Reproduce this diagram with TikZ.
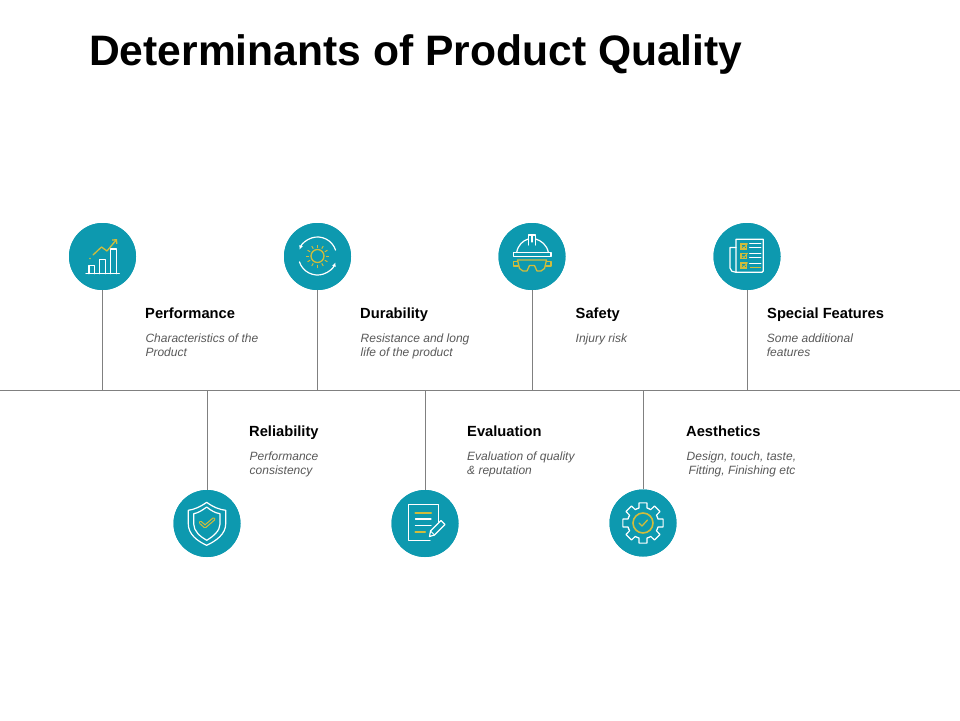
\documentclass[tikz,border=0pt]{standalone}
\usepackage{fontspec}
\setmainfont{Liberation Sans}
\usetikzlibrary{arrows.meta,calc}
\definecolor{teal1}{RGB}{13,153,175}
\definecolor{gold1}{RGB}{208,188,60}
\definecolor{rule1}{RGB}{128,128,128}
\definecolor{desc1}{RGB}{89,89,89}
\tikzset{
  disc/.style={circle,fill=teal1,minimum size=67pt,inner sep=0pt},
  stem/.style={draw=rule1,line width=0.8pt},
  head/.style={anchor=base west,inner sep=0pt,font=\fontsize{14.7}{17}\selectfont\bfseries,text=black},
  desc/.style={anchor=north west,inner sep=0pt,align=left,font=\fontsize{12}{14}\selectfont\itshape,text=desc1},
  wl/.style={draw=white,line width=1.2pt,line join=round,line cap=round},
  gl/.style={draw=gold1,line width=1.3pt,line join=round,line cap=round},
  gt/.style={draw=gold1,line width=2.2pt,line cap=round},
}
\begin{document}
\begin{tikzpicture}[x=1pt,y=-1pt]
\useasboundingbox (0,0) rectangle (960,720);
\fill[white] (0,0) rectangle (960,720);
\node[anchor=base west,inner sep=0pt,font=\fontsize{42.6}{48}\selectfont\bfseries] (title) at (89,65) {Determinants of Product Quality};
\coordinate (axisL) at (0,390);
\coordinate (axisR) at (960,390);
\draw[stem] (axisL) -- (axisR);
% discs
\node[disc] (perf) at (102.5,256.5) {};
\node[disc] (dura) at (317.5,256.5) {};
\node[disc] (safe) at (532,256.5) {};
\node[disc] (spec) at (747,256.5) {};
\node[disc] (reli) at (207,523.5) {};
\node[disc] (eval) at (425,523.5) {};
\node[disc] (aest) at (643,523) {};
% stems
\foreach \n in {perf,dura,safe,spec,reli,eval,aest}
  \draw[stem] (\n) -- (\n |- axisL);
\foreach \n in {perf,dura,safe,spec,reli,eval,aest}
  \node[disc] at (\n) {};
% labels
\node[head] (t1) at (145,318.5) {Performance};
\node[desc] (d1) at (145.3,333.5) {Characteristics of the\\Product};
\node[head] (t2) at (360,318.5) {Durability};
\node[desc] (d2) at (360.5,333.5) {Resistance and long\\life of the product};
\node[head] (t3) at (575.5,318.5) {Safety};
\node[desc] (d3) at (575.5,333.5) {Injury risk};
\node[head] (t4) at (767,318.5) {Special Features};
\node[desc] (d4) at (766.7,333.5) {Some additional\\features};
\node[head] (t5) at (249,436.5) {Reliability};
\node[desc] (d5) at (249.5,451.5) {Performance\\consistency};
\node[head] (t6) at (467,436.5) {Evaluation};
\node[desc] (d6) at (467,451.5) {Evaluation of quality\\\& reputation};
\node[head] (t7) at (686,436.5) {Aesthetics};
\node[desc] (d7) at (686.5,451.5) {Design, touch, taste,\\\hspace*{2pt}Fitting, Finishing etc};
% icon: chart
\draw[wl] (86,273.7) -- (119.3,273.7);
\draw[wl] (89,273.7) -- (89,265.5) -- (94.5,265.5) -- (94.5,273.7);
\draw[wl] (99.7,273.7) -- (99.7,259.5) -- (105.3,259.5) -- (105.3,273.7);
\draw[wl] (110.7,273.7) -- (110.7,249) -- (116.7,249) -- (116.7,273.7);
\draw[gl,-{Straight Barb[length=3pt,width=6pt]}] (93,255) -- (101.5,247) -- (107,251) -- (117,239);
\fill[gold1] (90,258.5) circle (0.9);
% icon: durability
\draw[gl] (317.5,256) circle (6.5);
\foreach \a in {0,30,...,330}
  \draw[gold1,line width=1pt] ($(317.5,256)+(\a:8.5)$) -- ($(317.5,256)+(\a:11.5)$);
\draw[wl,-{Latex[length=4pt,width=4pt]}] ($(317.5,256)+(-18:19)$) arc[start angle=-18,end angle=-160,radius=19];
\draw[wl,-{Latex[length=4pt,width=4pt]}] ($(317.5,256)+(162:19)$) arc[start angle=162,end angle=20,radius=19];
% icon: helmet
\draw[wl] (513.3,252.3) rectangle (551,256.7);
\draw[wl] (516.7,252.3) .. controls (518,245) and (523,240.5) .. (528.3,239);
\draw[wl] (535.7,239) .. controls (541,240.5) and (547,245) .. (548.3,252.3);
\draw[wl] (528.3,245) -- (528.3,235) -- (535.7,235) -- (535.7,245);
\draw[wl] (532,235) -- (532,242);
\draw[gl] (517.5,260) -- (546.5,260) -- (544.5,268.5) -- (541,271) -- (537,271) -- (534.5,265.5) -- (529.5,265.5) -- (527,271) -- (523,271) -- (519.5,268.5) -- cycle;
\draw[gl] (517.5,261.7) -- (513.5,261.7) -- (513.5,266) -- (518.3,266);
\draw[gl] (546.5,261.7) -- (551,261.7) -- (551,266) -- (545.7,266);
% icon: checklist
\draw[wl] (736,272.3) -- (762,272.3) -- (763.3,271) -- (763.3,239.3) -- (736,239.3) -- (736,272.3);
\draw[wl] (736,247.5) -- (730,247.5) -- (730,268) .. controls (730,271) and (733,272.3) .. (736,272.3);
\foreach \y in {246.5,256,265.5} {
  \draw[gold1,line width=1.2pt] (741,\y-2.5) rectangle (746.5,\y+2.5);
  \draw[gold1,line width=1pt] (742.5,\y) -- (744,\y+1.5) -- (747.5,\y-3);
}
\foreach \y in {243,247.5,253,257.5,263}
  \draw[wl,line width=0.9pt] (749.5,\y) -- (761,\y);
\draw[gold1,line width=1.4pt] (749.5,267.5) -- (761,267.5);
% icon: shield
\draw[wl] (206.7,502.3) .. controls (200,507) and (194,509.5) .. (188.3,510.3) -- (188.3,524) .. controls (188.3,534) and (197,541) .. (206.7,545.3) .. controls (216,541) and (225.7,534) .. (225.7,524) -- (225.7,510.3) .. controls (219,509.5) and (213,507) .. (206.7,502.3) -- cycle;
\draw[wl] (206.7,507) .. controls (202,510.5) and (198,513) .. (193.7,513.7) -- (193.7,524) .. controls (193.7,531) and (200,536.5) .. (206.7,540.3) .. controls (213,536.5) and (220,531) .. (220,524) -- (220,513.7) .. controls (215,513) and (211,510.5) .. (206.7,507) -- cycle;
\draw[gold1,line width=3.6pt,line cap=round,line join=round] (200.5,522.5) -- (205,526.5) -- (213.8,519);
\draw[teal1,line width=1.2pt,line cap=round,line join=round] (200.5,522.5) -- (205,526.5) -- (213.8,519);
% icon: document
\draw[wl] (430,540.3) -- (408.3,540.3) -- (408.3,504.7) -- (438.3,504.7) -- (438.3,522);
\draw[gt] (415.5,513) -- (431,513);
\draw[wl] (415.5,519) -- (431,519);
\draw[wl] (415.5,525.3) -- (431,525.3);
\draw[gt] (415.5,532) -- (425,532);
\draw[wl,fill=teal1] (429.5,536.5) -- (430.5,531) -- (441,520.5) -- (445,524.5) -- (434.5,535) -- cycle;
\draw[wl,line width=0.8pt] (430.5,531) -- (434.5,535);
% icon: gear
\begin{scope}[shift={(643,523)}]
\foreach \a in {0,45,...,315}
  \draw[wl] ({\a-22.5}:15.5) -- ({\a-15}:15.5) -- ({\a-11}:20.5) -- ({\a+11}:20.5) -- ({\a+15}:15.5) -- ({\a+22.5}:15.5);
\draw[gold1,line width=1.6pt] (0,0) circle (10);
\draw[gl] (-4,0) -- (-1,3) -- (4.5,-3);
\end{scope}
\end{tikzpicture}
\end{document}
